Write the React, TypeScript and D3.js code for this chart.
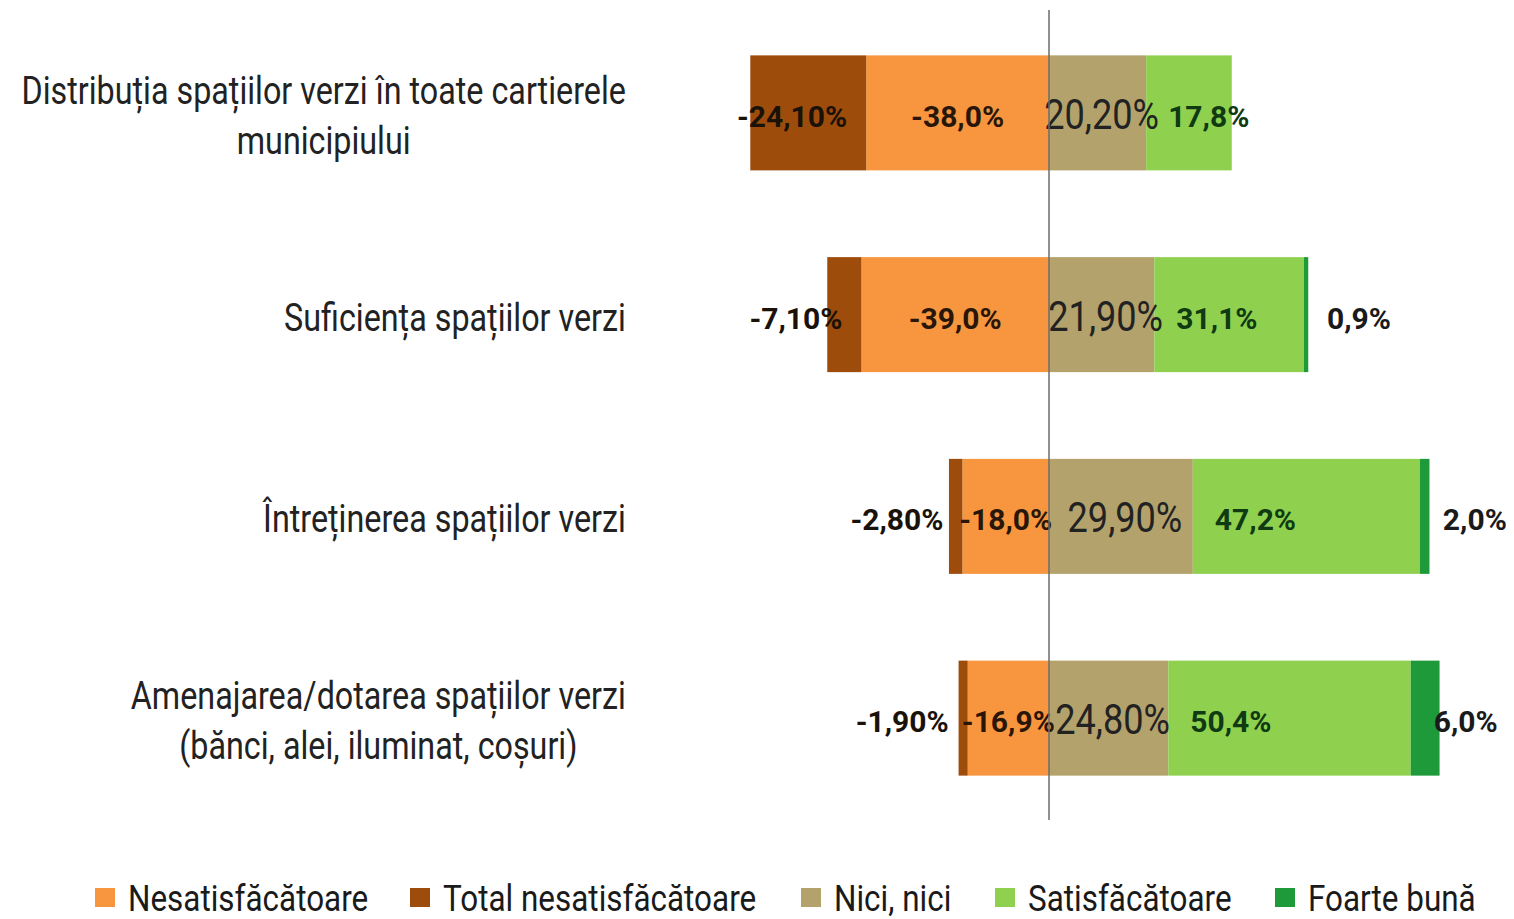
import React from "react";
import * as d3 from "d3";

const categories: string[][] = [
  ["Distribuția spațiilor verzi în toate cartierele", "municipiului"],
  ["Suficiența spațiilor verzi"],
  ["Întreținerea spațiilor verzi"],
  ["Amenajarea/dotarea spațiilor verzi", "(bănci, alei, iluminat, coșuri)"],
];
const nesatisfacatoare = [38.0, 39.0, 18.0, 16.9];
const totalNesatisfacatoare = [24.1, 7.1, 2.8, 1.9];
const niciNici = [20.2, 21.9, 29.9, 24.8];
const satisfacatoare = [17.8, 31.1, 47.2, 50.4];
const foarteBuna = [0, 0.9, 2.0, 6.0];
const legendLabels = ["Nesatisfăcătoare", "Total nesatisfăcătoare", "Nici, nici", "Satisfăcătoare", "Foarte bună"];

const W = 1514;
const H = 919;
const FONT = "Roboto, 'Liberation Sans', sans-serif";
const C = {
  nes: "#F7963F",
  tot: "#9E4C0C",
  nici: "#B3A26C",
  sat: "#8FD14F",
  fb: "#1F9A3A",
};

const fmt = (v: number, d: number) => v.toFixed(d).replace(".", ",") + "%";

let ctx: CanvasRenderingContext2D | null = null;
function measure(text: string, size: number, weight: number | string = 400) {
  if (!ctx) ctx = document.createElement("canvas").getContext("2d");
  if (!ctx) return text.length * size * 0.5;
  ctx.font = `${weight} ${size}px Roboto, 'Liberation Sans', sans-serif`;
  return ctx.measureText(text).width;
}

function CText(props: {
  x: number; y: number; anchor?: string; size: number; weight?: number | string;
  fill?: string; sx: number; children: React.ReactNode;
}) {
  const { x, y, anchor = "start", size, weight = 400, fill = "#222", sx, children } = props;
  return (
    <text
      transform={`translate(${x},${y}) scale(${sx},1)`}
      textAnchor={anchor}
      fontFamily={FONT}
      fontSize={size}
      fontWeight={weight}
      fill={fill}
    >
      {children}
    </text>
  );
}

export default function App() {
  const x = d3.scaleLinear().domain([-65, 95]).range([1049 - 65 * 4.81, 1049 + 95 * 4.81]);
  const idx = categories.map((_, i) => String(i));
  const y = d3.scaleBand<string>().domain(idx).range([12, 819]).paddingInner(0.43).paddingOuter(0.215);
  const bw = y.bandwidth();

  const catSize = 38;
  const catSx = 0.85;
  const catRight = 626;

  const legendX = [95, 410, 801, 995, 1275];
  const legendColors = [C.nes, C.tot, C.nici, C.sat, C.fb];

  return (
    <svg width={W} height={H} style={{ position: "absolute", left: 0, top: 0, background: "#fff" }}>
      {idx.map((k, i) => {
        const y0 = y(k)!;
        const cy = y0 + bw / 2;
        const n = nesatisfacatoare[i];
        const t = totalNesatisfacatoare[i];
        const ni = niciNici[i];
        const s = satisfacatoare[i];
        const f = foarteBuna[i];
        const segs = [
          { a: -n, b: 0, c: C.nes },
          { a: -(n + t), b: -n, c: C.tot },
          { a: 0, b: ni, c: C.nici },
          { a: ni, b: ni + s, c: C.sat },
          { a: ni + s, b: ni + s + f, c: C.fb },
        ];
        const lines = categories[i];
        const lh = 50;
        const base = cy + 16 - ((lines.length - 1) * lh) / 2;
        const blockW = Math.max(...lines.map((l) => measure(l, catSize))) * catSx;
        const cx = catRight - blockW / 2;
        const ty = cy + 14;
        return (
          <g key={k}>
            {segs.map((sg, j) =>
              sg.b - sg.a > 0 ? (
                <rect key={j} x={x(sg.a)} y={y0} width={x(sg.b) - x(sg.a)} height={bw} fill={sg.c} />
              ) : null
            )}
            {lines.map((ln, j) => (
              <CText key={j} x={cx} y={base + j * lh} anchor="middle" size={catSize} sx={catSx}>
                {ln}
              </CText>
            ))}
            <CText x={x(-n) - 19} y={ty} anchor="end" size={30} weight={700} fill="#1a1208" sx={1.0}>
              {fmt(-t, 2)}
            </CText>
            <CText x={(x(-n) + x(0)) / 2} y={ty} anchor="middle" size={30} weight={700} fill="#2a1608" sx={1.0}>
              {fmt(-n, 1)}
            </CText>
            <CText x={(x(0) + x(ni)) / 2 + 4} y={ty + 2} anchor="middle" size={42} weight={400} fill="#222" sx={0.86}>
              {fmt(ni, 2)}
            </CText>
            <CText x={x(ni) + 22} y={ty} anchor="start" size={30} weight={700} fill="#0f3a12" sx={1.0}>
              {fmt(s, 1)}
            </CText>
            {f > 0 ? (
              <CText x={x(ni + s) + 23} y={ty} anchor="start" size={30} weight={700} fill="#1a1a1a" sx={1.0}>
                {fmt(f, 1)}
              </CText>
            ) : null}
          </g>
        );
      })}
      <line x1={x(0)} x2={x(0)} y1={10} y2={820} stroke="#6b6b6b" strokeWidth={1.5} />
      {legendLabels.map((lb, i) => (
        <g key={lb}>
          <rect x={legendX[i]} y={888} width={20} height={19} fill={legendColors[i]} />
          <CText x={legendX[i] + 33} y={911} size={37} sx={0.85} fill="#1a1a1a">
            {lb}
          </CText>
        </g>
      ))}
    </svg>
  );
}
